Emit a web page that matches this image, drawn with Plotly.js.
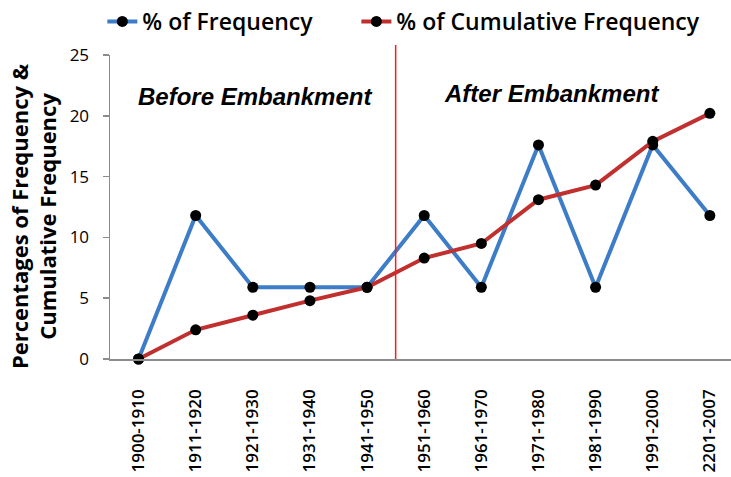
<!DOCTYPE html>
<html>
<head>
<meta charset="utf-8">
<script src="https://cdn.plot.ly/plotly-3.0.1.min.js"></script>
<style>
  html, body { margin: 0; padding: 0; background: #ffffff; }
  #chart { width: 731px; height: 477px; }
</style>
</head>
<body>
<div id="chart"></div>
<script>
// Decade periods on the x axis
const periods = ['1900-1910', '1911-1920', '1921-1930', '1931-1940', '1941-1950',
  '1951-1960', '1961-1970', '1971-1980', '1981-1990', '1991-2000', '2201-2007'];

// Percentage of flood frequency per period
const pctFrequency = [0, 11.8, 5.9, 5.9, 5.9, 11.8, 5.9, 17.6, 5.9, 17.6, 11.8];

// Percentage of cumulative frequency per period
const pctCumulative = [0, 2.4, 3.6, 4.8, 5.9, 8.3, 9.5, 13.1, 14.3, 17.9, 20.2];

// Phase labels and the position (category index) of the embankment divider
const phaseLabels = ['Before Embankment', 'After Embankment'];
const phaseLabelX = [2.03, 7.22];
const phaseLabelY = [21.6, 21.8];
const embankmentAt = 4.5;

const yTitle = 'Percentages of Frequency &<br>Cumulative Frequency';

const baseFont = 'Open Sans, Noto Sans, sans-serif';
const blue = '#3d7cc6';
const red = '#c0302e';

const traces = [
  {
    x: periods, y: pctFrequency, type: 'scatter', mode: 'lines+markers',
    name: '% of Frequency', cliponaxis: false, legend: 'legend',
    line: { color: blue, width: 4 },
    marker: { color: '#000000', size: 11, symbol: 'circle' }
  },
  {
    x: periods, y: pctCumulative, type: 'scatter', mode: 'lines+markers',
    name: '% of Cumulative Frequency', cliponaxis: false, legend: 'legend2',
    line: { color: red, width: 4 },
    marker: { color: '#000000', size: 11, symbol: 'circle' }
  }
];

// Each series gets its own single-entry legend so the two can sit apart
const legendBase = {
  orientation: 'h', xref: 'container', yref: 'container',
  y: 1.0, xanchor: 'left', yanchor: 'top',
  font: { family: baseFont, size: 23, weight: 600 },
  itemwidth: 30
};

// Phase labels inside the plot
const phaseNotes = phaseLabels.map((t, i) => ({
  text: '<b><i>' + t + '</i></b>',
  x: phaseLabelX[i], y: phaseLabelY[i], xref: 'x', yref: 'y',
  showarrow: false, xanchor: 'center', yanchor: 'middle',
  font: { family: 'Liberation Sans, Arial, sans-serif', size: 24, color: '#000000' }
}));

// Two-line vertical title for the value axis
const yTitleNote = {
  text: yTitle, textangle: -90,
  xref: 'paper', yref: 'paper', x: -0.124, y: 0.47,
  xanchor: 'center', yanchor: 'middle', showarrow: false,
  font: { family: baseFont, size: 22, weight: 700, color: '#000000' }
};

const layout = {
  width: 731, height: 477,
  margin: { l: 110, r: 0, t: 55, b: 118 },
  paper_bgcolor: '#ffffff', plot_bgcolor: '#ffffff',
  font: { family: baseFont, color: '#000000' },
  showlegend: true,
  legend: Object.assign({}, legendBase, { x: 0.14 }),
  legend2: Object.assign({}, legendBase, { x: 0.4875 }),
  xaxis: {
    type: 'category', range: [-0.5, 10.37],
    showgrid: false, zeroline: false,
    showline: true, linecolor: '#8c8c8c', linewidth: 1.5,
    ticks: '', tickangle: -90, ticklabelstandoff: 22,
    tickfont: { family: baseFont, size: 17, weight: 600 }
  },
  yaxis: {
    range: [0, 25], dtick: 5, tick0: 0,
    showgrid: false, zeroline: false,
    showline: true, linecolor: '#8c8c8c', linewidth: 1.5,
    ticks: 'outside', ticklen: 6, tickcolor: '#8c8c8c', tickwidth: 1.5,
    ticklabelstandoff: 10,
    tickfont: { family: baseFont, size: 17 }
  },
  shapes: [
    {
      type: 'line', xref: 'x', yref: 'paper',
      x0: embankmentAt, x1: embankmentAt, y0: 0, y1: 1.033,
      line: { color: '#ff1a1a', width: 1.5 }
    }
  ],
  annotations: phaseNotes.concat([yTitleNote])
};

Plotly.newPlot('chart', traces, layout, { displayModeBar: false, staticPlot: true });
</script>
</body>
</html>
